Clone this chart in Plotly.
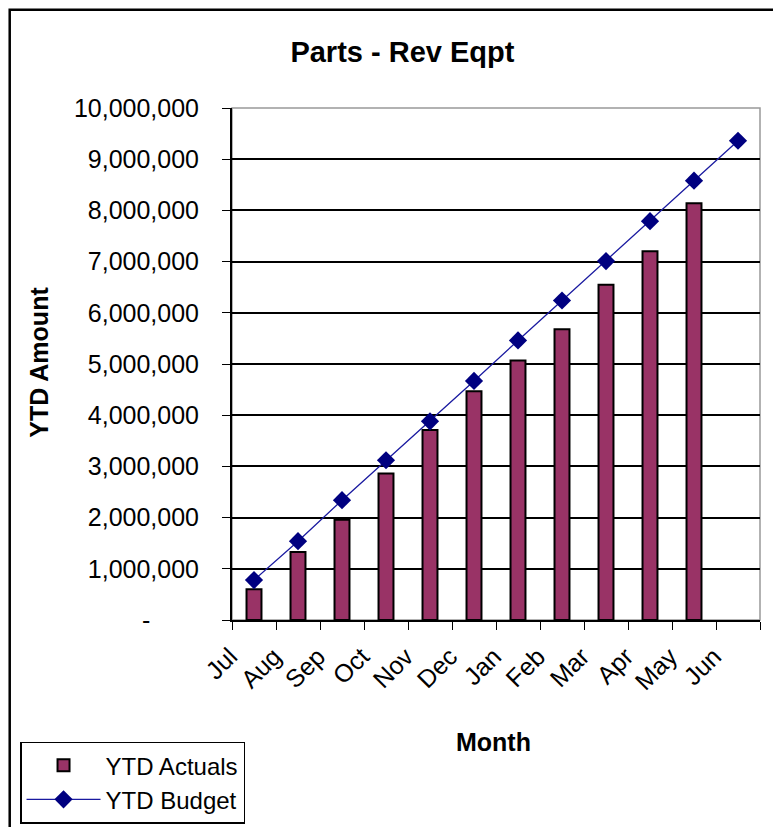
import plotly.graph_objects as go

months = ["Jul", "Aug", "Sep", "Oct", "Nov", "Dec", "Jan", "Feb", "Mar", "Apr", "May", "Jun"]
ytd_actuals = [600000, 1330000, 1960000, 2860000, 3710000, 4470000, 5070000, 5680000, 6550000, 7200000, 8140000, None]
ytd_budget = [780000, 1540000, 2340000, 3120000, 3880000, 4670000, 5460000, 6240000, 7010000, 7790000, 8580000, 9360000]
y_ticks = [0, 1000000, 2000000, 3000000, 4000000, 5000000, 6000000, 7000000, 8000000, 9000000, 10000000]
y_tick_text = ["-\u00a0\u00a0\u00a0\u00a0\u00a0\u00a0\u00a0"] + [f"{v:,}" for v in y_ticks[1:]]

font = "Arial, Liberation Sans, sans-serif"

fig = go.Figure()
fig.add_trace(go.Bar(x=months, y=ytd_actuals, name="YTD Actuals", width=0.34,
                     marker=dict(color="#993366", line=dict(color="black", width=2))))
fig.add_trace(go.Scatter(x=months, y=ytd_budget, name="YTD Budget", mode="lines+markers",
                         line=dict(color="#1a1aa0", width=1.3),
                         marker=dict(symbol="diamond", size=14, color="#000080")))

fig.update_layout(
    width=781, height=827,
    margin=dict(l=224, r=29, t=100, b=215, autoexpand=False),
    paper_bgcolor="white", plot_bgcolor="white",
    font=dict(family=font, color="black", size=22),
    title=dict(text="<b>Parts - Rev Eqpt</b>", x=0.505, xanchor="center", y=0.947, yanchor="middle",
               font=dict(size=29)),
    showlegend=True,
    legend=dict(xref="container", yref="container", x=0.0154, y=0.113, xanchor="left", yanchor="top",
                bordercolor="black", borderwidth=1.5,
                font=dict(size=24), tracegroupgap=0, itemwidth=74, bgcolor="white"),
    xaxis=dict(range=[-0.5, 11.5], tickangle=-45, tickson="boundaries", ticks="outside", ticklen=8,
               tickcolor="black", showline=True, linecolor="black", linewidth=2, showgrid=False,
               automargin=False, ticklabelshift=-24, ticklabelstandoff=10, tickfont=dict(size=25)),
    yaxis=dict(range=[0, 10000000], tickvals=y_ticks, ticktext=y_tick_text, ticks="outside",
               ticklen=8, tickcolor="black", showline=True, linecolor="black", linewidth=2,
               showgrid=True, gridcolor="black", gridwidth=2, zeroline=False, automargin=False,
               ticklabelstandoff=18, tickfont=dict(size=25)),
    annotations=[
        dict(text="<b>YTD Amount</b>", xref="paper", yref="paper", x=-0.366, y=0.504,
             textangle=-90, showarrow=False, font=dict(size=25), xanchor="center", yanchor="middle"),
        dict(text="<b>Month</b>", xref="paper", yref="paper", x=0.496, y=-0.238,
             showarrow=False, font=dict(size=25), xanchor="center", yanchor="middle"),
    ],
    shapes=[
        dict(type="rect", xref="paper", yref="paper", x0=0, x1=1, y0=0, y1=1,
             line=dict(color="#999999", width=1.5), layer="below"),
        dict(type="rect", xref="paper", yref="paper", x0=-0.421, x1=1.2, y0=-0.5, y1=1.192,
             line=dict(color="black", width=2.5)),
    ],
)

fig.write_html("out.html")
